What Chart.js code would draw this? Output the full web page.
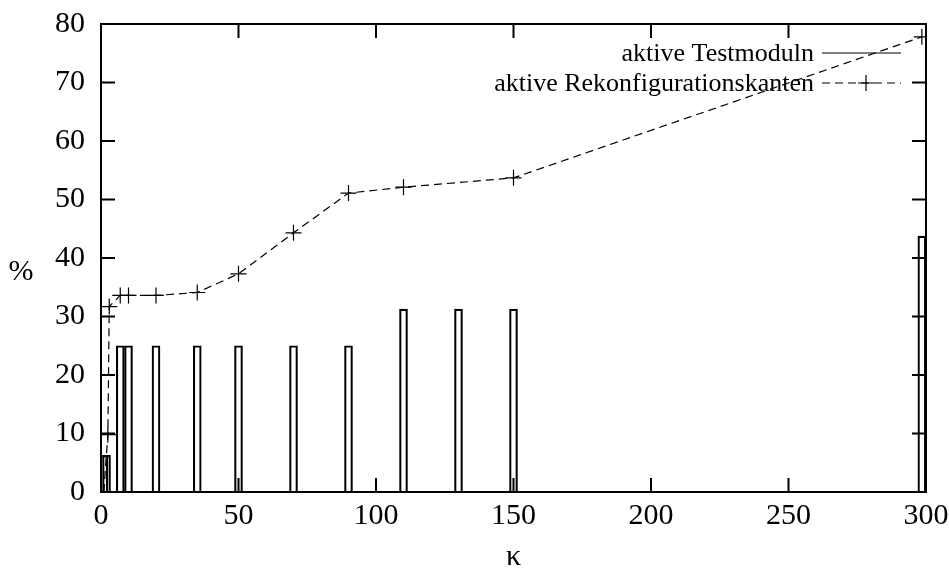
<!DOCTYPE html>
<html>
<head>
<meta charset="utf-8">
<script src="https://cdn.jsdelivr.net/npm/chart.js@4.4.1/dist/chart.umd.min.js"></script>
<style>
  html, body { margin: 0; padding: 0; background: #fff; }
  #wrap { width: 949px; height: 572px; }
</style>
</head>
<body>
<div id="wrap"><canvas id="chart"></canvas></div>
<script>
// bars: aktive Testmoduln (%)
const kappaBars = [1, 2, 7, 10, 20, 35, 50, 70, 90, 110, 130, 150, 298.5];
const testModuln = [6.25, 6.25, 25, 25, 25, 25, 25, 25, 25, 31.25, 31.25, 31.25, 43.75];

// dashed line: aktive Rekonfigurationskanten (%)
const kappaLine = [1, 2.5, 3, 7, 10, 20, 35, 50, 70, 90, 110, 150, 298.5];
const rekonfKanten = [0, 9.8, 31.7, 33.6, 33.6, 33.6, 34.1, 37.3, 44.3, 51.1, 52.1, 53.7, 77.8];

const xTicks = [0, 50, 100, 150, 200, 250, 300];
const yTicks = [0, 10, 20, 30, 40, 50, 60, 70, 80];

const FONT = 'Liberation Serif, Times New Roman, serif';

// gnuplot look: full border, inward ticks on all sides, key at top right
const gnuplotFrame = {
    id: 'gnuplotFrame',
    afterDraw(chart) {
        const { ctx, chartArea: a, scales } = chart;
        const tl = 14;
        ctx.save();
        ctx.strokeStyle = '#000';
        ctx.lineWidth = 2;
        ctx.beginPath();
        xTicks.forEach(v => {
            const px = scales.x.getPixelForValue(v);
            ctx.moveTo(px, a.bottom); ctx.lineTo(px, a.bottom - tl);
            ctx.moveTo(px, a.top); ctx.lineTo(px, a.top + tl);
        });
        yTicks.forEach(v => {
            const py = scales.y.getPixelForValue(v);
            ctx.moveTo(a.left, py); ctx.lineTo(a.left + tl, py);
            ctx.moveTo(a.right, py); ctx.lineTo(a.right - tl, py);
        });
        ctx.stroke();
        ctx.strokeRect(a.left, a.top, a.right - a.left, a.bottom - a.top);

        // axis titles
        ctx.fillStyle = '#000';
        ctx.font = '30px ' + FONT;
        ctx.textAlign = 'center';
        ctx.textBaseline = 'middle';
        ctx.fillText('%', 21, 272);
        ctx.fillText('κ', (a.left + a.right) / 2, 557);

        // key
        const ds = chart.data.datasets;
        const rows = [
            { label: ds[0].label, y: 53, dash: [], marker: false },
            { label: ds[1].label, y: 83, dash: [8, 5], marker: true },
        ];
        const x0 = 822, x1 = 901;
        ctx.font = '26px ' + FONT;
        ctx.textAlign = 'right';
        rows.forEach(r => {
            ctx.fillText(r.label, 814, r.y + 1);
            ctx.lineWidth = 1.2;
            ctx.setLineDash(r.dash);
            ctx.beginPath();
            ctx.moveTo(x0, r.y); ctx.lineTo(x1, r.y);
            ctx.stroke();
            ctx.setLineDash([]);
            if (r.marker) {
                const cx = 866;
                ctx.beginPath();
                ctx.moveTo(cx - 8, r.y); ctx.lineTo(cx + 8, r.y);
                ctx.moveTo(cx, r.y - 8); ctx.lineTo(cx, r.y + 8);
                ctx.stroke();
            }
        });
        ctx.restore();
    }
};

new Chart(document.getElementById('chart'), {
    type: 'bar',
    data: {
        datasets: [
            {
                type: 'bar',
                label: 'aktive Testmoduln',
                data: kappaBars.map((k, i) => ({ x: k, y: testModuln[i] })),
                backgroundColor: 'rgba(0,0,0,0)',
                borderColor: '#000',
                borderWidth: 1.5,
                barThickness: 8,
                order: 2,
            },
            {
                type: 'line',
                label: 'aktive Rekonfigurationskanten',
                data: kappaLine.map((k, i) => ({ x: k, y: rekonfKanten[i] })),
                borderColor: '#000',
                borderWidth: 1.2,
                borderDash: [8, 5],
                tension: 0,
                fill: false,
                pointStyle: 'cross',
                pointRadius: 8,
                pointBorderWidth: 1.2,
                pointBorderColor: '#000',
                order: 1,
            },
        ],
    },
    options: {
        responsive: true,
        maintainAspectRatio: false,
        animation: false,
        layout: { padding: { top: 24, right: 23, left: 0, bottom: 0 } },
        plugins: { legend: { display: false }, tooltip: { enabled: false } },
        scales: {
            x: {
                type: 'linear',
                min: 0,
                max: 300,
                offset: false,
                grid: { display: false, drawTicks: false },
                border: { display: false },
                afterBuildTicks: s => { s.ticks = xTicks.map(v => ({ value: v })); },
                afterFit: s => { s.height = 80; s.paddingLeft = 0; s.paddingRight = 0; },
                ticks: { color: '#000', font: { family: FONT, size: 30 }, padding: 6, maxRotation: 0 },
            },
            y: {
                min: 0,
                max: 80,
                grid: { display: false, drawTicks: false },
                border: { display: false },
                afterBuildTicks: s => { s.ticks = yTicks.map(v => ({ value: v })); },
                afterFit: s => { s.width = 101; s.paddingTop = 0; s.paddingBottom = 0; },
                ticks: { color: '#000', font: { family: FONT, size: 30 }, padding: 16 },
            },
        },
    },
    plugins: [gnuplotFrame],
});
</script>
</body>
</html>
